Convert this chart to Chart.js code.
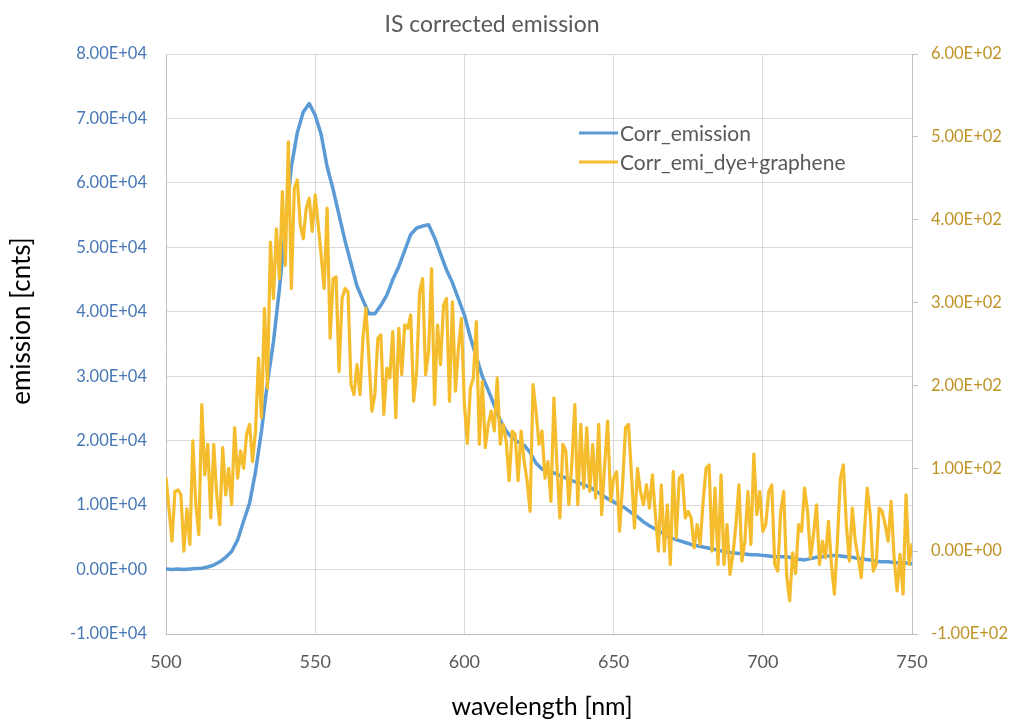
<!DOCTYPE html>
<html>
<head>
<meta charset="utf-8">
<script src="https://cdn.jsdelivr.net/npm/chart.js@4.4.1/dist/chart.umd.min.js"></script>
<style>
  html, body { margin: 0; padding: 0; background: #ffffff; }
  #wrap { width: 1015px; height: 719px; position: relative; }
</style>
</head>
<body>
<div id="wrap"><canvas id="c"></canvas></div>
<script>
// ---------- DATA ----------
const chartTitle = "IS corrected emission";
const xTitle = "wavelength [nm]";
const yTitle = "emission [cnts]";
const seriesNames = ["Corr_emission", "Corr_emi_dye+graphene"];

// Corr_emission (left axis), every 2 nm
const blueNm = [
  500,502,504,506,508,510,512,514,516,518,
  520,522,524,526,528,530,532,534,536,538,
  540,542,544,546,548,550,552,554,556,558,
  560,562,564,566,568,570,572,574,576,578,
  580,582,584,586,588,590,592,594,596,598,
  600,602,604,606,608,610,612,614,616,618,
  620,622,624,626,628,630,632,634,636,638,
  640,642,644,646,648,650,652,654,656,658,
  660,662,664,666,668,670,672,674,676,678,
  680,682,684,686,688,690,692,694,696,698,
  700,702,704,706,708,710,712,714,716,718,
  720,722,724,726,728,730,732,734,736,738,
  740,742,744,746,748,750
];
const blueVals = [
  100,0,100,0,100,150,200,400,700,1200,
  1900,2800,4600,7500,10300,15200,21500,29000,35300,43500,
  53000,62500,67800,71000,72300,70500,67500,62500,59000,55000,
  51000,47500,44000,41800,39700,39700,41000,42600,45000,47000,
  49500,52000,53000,53300,53500,51500,49000,46500,44500,42000,
  39500,36000,33000,30000,27800,25500,23200,21500,20400,19800,
  19300,18200,16500,15600,15200,15000,14600,14200,13800,13500,
  13200,12800,12200,11600,11000,10500,10000,9500,8800,8200,
  7400,6800,6300,5800,5200,4800,4500,4200,3900,3700,
  3500,3300,3100,2900,2700,2600,2500,2400,2300,2300,
  2200,2100,2000,2000,2000,1800,1600,1500,1700,1900,
  2000,2100,2200,2100,2000,1900,1700,1600,1500,1300,
  1200,1200,1100,1000,1000,900
];

// Corr_emi_dye+graphene (right axis), every 1 nm
const orangeNm = [
  500,501,502,503,504,505,506,507,508,509,
  510,511,512,513,514,515,516,517,518,519,
  520,521,522,523,524,525,526,527,528,529,
  530,531,532,533,534,535,536,537,538,539,
  540,541,542,543,544,545,546,547,548,549,
  550,551,552,553,554,555,556,557,558,559,
  560,561,562,563,564,565,566,567,568,569,
  570,571,572,573,574,575,576,577,578,579,
  580,581,582,583,584,585,586,587,588,589,
  590,591,592,593,594,595,596,597,598,599,
  600,601,602,603,604,605,606,607,608,609,
  610,611,612,613,614,615,616,617,618,619,
  620,621,622,623,624,625,626,627,628,629,
  630,631,632,633,634,635,636,637,638,639,
  640,641,642,643,644,645,646,647,648,649,
  650,651,652,653,654,655,656,657,658,659,
  660,661,662,663,664,665,666,667,668,669,
  670,671,672,673,674,675,676,677,678,679,
  680,681,682,683,684,685,686,687,688,689,
  690,691,692,693,694,695,696,697,698,699,
  700,701,702,703,704,705,706,707,708,709,
  710,711,712,713,714,715,716,717,718,719,
  720,721,722,723,724,725,726,727,728,729,
  730,731,732,733,734,735,736,737,738,739,
  740,741,742,743,744,745,746,747,748,749,
  750
];
const orangeVals = [
  88,51,12,72,74,68,0,51,8,133,
  56,20,177,92,129,40,129,68,32,125,
  68,100,56,149,88,121,100,141,153,108,
  145,233,161,293,197,373,305,389,329,434,
  345,494,317,438,448,394,377,414,426,386,
  430,394,357,317,414,257,329,331,217,305,
  317,313,201,189,225,189,257,293,233,169,
  189,257,261,165,221,209,265,161,269,213,
  273,269,285,181,217,313,329,213,241,341,
  177,273,225,297,305,181,301,193,245,281,
  177,130,197,209,277,129,205,125,153,169,
  145,209,129,153,133,85,145,141,85,145,
  109,85,48,201,169,129,145,88,108,60,
  185,104,40,129,121,56,104,177,56,153,
  76,149,72,129,64,153,44,104,157,60,
  88,96,24,80,149,153,92,28,100,72,
  56,80,52,92,44,0,80,0,56,-16,
  96,16,88,92,40,48,40,4,32,8,
  60,100,104,0,76,-16,92,-16,32,-28,
  -4,32,80,-12,12,72,8,117,44,72,
  24,32,72,80,-16,-24,48,72,-30,-60,
  -2,-27,32,24,76,48,-8,20,56,-16,
  12,-8,36,-16,-52,12,88,104,32,-12,
  52,12,-8,-32,20,76,44,-24,-16,52,
  48,32,12,60,-8,-48,-4,-52,68,-16,
  8
];

// Axis tick settings
const xTicks = [500, 550, 600, 650, 700, 750];
const leftTicks = [-10000, 0, 10000, 20000, 30000, 40000, 50000, 60000, 70000, 80000];
const rightTicks = [-100, 0, 100, 200, 300, 400, 500, 600];

// ---------- STYLE ----------
const FONT = "Lato, 'Open Sans', sans-serif";
const BLUE = "#5B9BD5";
const GOLD = "#F5BC2D";
const GRID = "#D9D9D9";
const AXISLINE = "#BFBFBF";
const TXT = "#595959";

function sci(v) {
  if (v === 0) return "0.00E+00";
  const sign = v < 0 ? "-" : "";
  const a = Math.abs(v);
  let e = Math.floor(Math.log10(a) + 1e-9);
  let m = a / Math.pow(10, e);
  let es = (e < 0 ? "-" : "+") + String(Math.abs(e)).padStart(2, "0");
  return sign + m.toFixed(2) + "E" + es;
}

const blueData = blueNm.map((x, i) => ({ x: x, y: blueVals[i] }));
const orangeData = orangeNm.map((x, i) => ({ x: x, y: orangeVals[i] }));

const decorPlugin = {
  id: "decor",
  afterDraw(chart) {
    const ctx = chart.ctx;
    ctx.save();
    // title
    ctx.fillStyle = TXT;
    ctx.font = "23px " + FONT;
    ctx.textAlign = "center";
    ctx.textBaseline = "middle";
    ctx.fillText(chartTitle, 492, 25);
    // x title
    ctx.fillStyle = "#000000";
    ctx.font = "25px " + FONT;
    ctx.fillText(xTitle, 542, 707);
    // y title
    ctx.save();
    ctx.translate(22, 321);
    ctx.rotate(-Math.PI / 2);
    ctx.font = "26px " + FONT;
    ctx.fillText(yTitle, 0, 0);
    ctx.restore();
    // legend
    const items = [
      { name: seriesNames[0], color: BLUE, y: 133 },
      { name: seriesNames[1], color: GOLD, y: 162 }
    ];
    ctx.font = "21px " + FONT;
    ctx.textAlign = "left";
    items.forEach(it => {
      ctx.strokeStyle = it.color;
      ctx.lineWidth = 3;
      ctx.beginPath();
      ctx.moveTo(579, it.y);
      ctx.lineTo(618, it.y);
      ctx.stroke();
      ctx.fillStyle = TXT;
      ctx.fillText(it.name, 620, it.y + 1);
    });
    ctx.restore();
  }
};

new Chart(document.getElementById("c"), {
  type: "line",
  data: {
    datasets: [
      {
        label: seriesNames[0], data: blueData, yAxisID: "y",
        borderColor: BLUE, borderWidth: 3.5, pointRadius: 0, tension: 0, order: 2,
        borderJoinStyle: "round", borderCapStyle: "round"
      },
      {
        label: seriesNames[1], data: orangeData, yAxisID: "y2",
        borderColor: GOLD, borderWidth: 3.2, pointRadius: 0, tension: 0, order: 1,
        borderJoinStyle: "round", borderCapStyle: "round"
      }
    ]
  },
  options: {
    responsive: true,
    maintainAspectRatio: false,
    animation: false,
    layout: { padding: { top: 54, left: 0, right: 0, bottom: 0 } },
    plugins: { legend: { display: false }, title: { display: false }, tooltip: { enabled: false } },
    scales: {
      x: {
        type: "linear", min: 500, max: 750,
        afterBuildTicks: s => { s.ticks = xTicks.map(v => ({ value: v })); },
        afterFit: s => { s.height = 85; },
        grid: { color: GRID, drawTicks: false, lineWidth: 1 },
        border: { color: AXISLINE, width: 1 },
        ticks: { color: TXT, font: { family: FONT, size: 18 }, padding: 17, maxRotation: 0 }
      },
      y: {
        position: "left", min: -10000, max: 80000,
        afterBuildTicks: s => { s.ticks = leftTicks.map(v => ({ value: v })); },
        afterFit: s => { s.width = 166; },
        grid: { color: GRID, drawTicks: false, lineWidth: 1 },
        border: { color: AXISLINE, width: 1 },
        ticks: { color: "#4677B6", font: { family: FONT, size: 16.5 }, padding: 19, callback: v => sci(v) }
      },
      y2: {
        position: "right", min: -100, max: 600,
        afterBuildTicks: s => { s.ticks = rightTicks.map(v => ({ value: v })); },
        afterFit: s => { s.width = 103; },
        grid: { drawOnChartArea: false, color: AXISLINE, tickLength: 6, drawTicks: true },
        border: { color: AXISLINE, width: 1 },
        ticks: { color: "#BF9326", font: { family: FONT, size: 16.5 }, padding: 13, callback: v => sci(v) }
      }
    }
  },
  plugins: [decorPlugin]
});
</script>
</body>
</html>
